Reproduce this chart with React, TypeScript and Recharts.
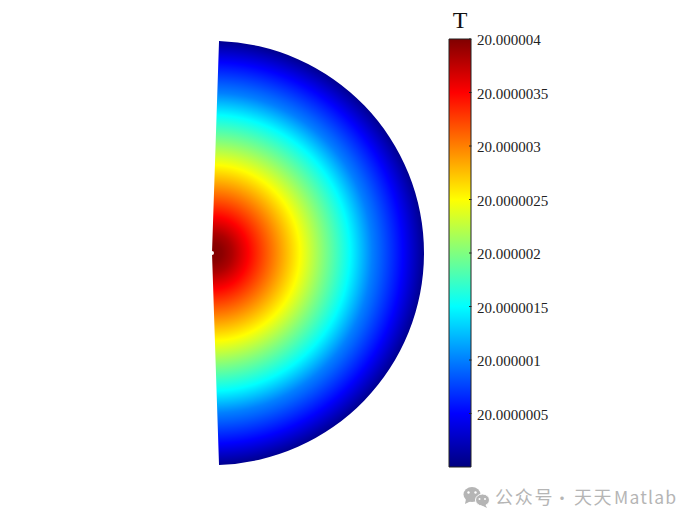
import { PieChart, Pie, Cell, BarChart, Bar, XAxis, YAxis } from "recharts"

// radial profile: distance from centre (0..1 of the radius) and T - 20, in 1e-6
const profileRadius = [0, 0.047, 0.094, 0.172, 0.295, 0.415, 0.53, 0.651, 0.755, 0.792, 0.9, 1]
const profileExcess = [4.0, 3.95, 3.82, 3.5, 3.0, 2.5, 2.0, 1.5, 1.0, 0.88, 0.5, 0.06]

const sector = [{ name: "domain", value: 1 }]
const colorbar = [{ name: "T", range: [20, 20.000004] }]
const tickValues = [20.0000005, 20.000001, 20.0000015, 20.000002, 20.0000025, 20.000003, 20.0000035, 20.000004]
const tickLabels = ["20.0000005", "20.000001", "20.0000015", "20.000002", "20.0000025", "20.000003", "20.0000035", "20.000004"]

// matlab jet, t in 0..1
function jet(t: number) {
  const ch = (x: number) => Math.round(255 * Math.max(0, Math.min(1, 1.5 - Math.abs(4 * x - 2))))
  return `rgb(${ch(t - 0.25)},${ch(t)},${ch(t + 0.25)})`
}
const jetStops = [0, 0.125, 0.375, 0.625, 0.875, 1]

const FONT = "'Liberation Serif', serif"
const CJK = "'Noto Sans CJK SC', sans-serif"
const GREY = "#b5b5b5"

function ColorbarTick({ x, y, payload }: any) {
  const i = tickValues.indexOf(payload.value)
  return (
    <g>
      <line x1={x - 10} x2={x - 7.5} y1={y} y2={y} stroke="#222" strokeWidth={1} />
      <text x={x - 2} y={y + 6} fontFamily={FONT} fontSize={15} fill="#222">
        {tickLabels[i]}
      </text>
    </g>
  )
}

function Watermark() {
  return (
    <svg width={700} height={525} style={{ position: "absolute", left: 0, top: 0 }}>
      <ellipse cx={472} cy={494.5} rx={8.5} ry={7.5} fill={GREY} />
      <path d="M466 499 L465 504 L471 501 Z" fill={GREY} />
      <ellipse cx={482.5} cy={500} rx={7} ry={6} fill={GREY} stroke="#fff" strokeWidth={1} />
      <path d="M485 504 L487 508 L481 505 Z" fill={GREY} />
      <circle cx={468.5} cy={492.5} r={1.2} fill="#fff" />
      <circle cx={475.5} cy={492.5} r={1.2} fill="#fff" />
      <circle cx={479.5} cy={499} r={1} fill="#fff" />
      <circle cx={485} cy={499} r={1} fill="#fff" />
      <text x={495} y={504} fontFamily={CJK} fontSize={18} letterSpacing={1.7} fill={GREY}>
        公众号
      </text>
      <text x={554} y={504} fontFamily={CJK} fontSize={16} fill={GREY}>
        ·
      </text>
      <text x={574} y={504} fontFamily={CJK} fontSize={18} letterSpacing={1.5} fill={GREY}>
        天天
      </text>
      <text x={614} y={504} fontFamily={CJK} fontSize={17.5} letterSpacing={1.2} fill={GREY}>
        Matlab
      </text>
    </svg>
  )
}

export default function App() {
  return (
    <div style={{ position: "absolute", left: 0, top: 0, width: 700, height: 525, background: "#fff" }}>
      <div style={{ position: "absolute", left: 0, top: 0 }}>
        <PieChart width={700} height={525} margin={{ top: 0, right: 0, bottom: 0, left: 0 }}>
          <defs>
            <radialGradient id="tField" gradientUnits="userSpaceOnUse" cx={212} cy={253} r={212}>
              {profileRadius.map((r, i) => (
                <stop key={i} offset={r} stopColor={jet(profileExcess[i] / 4)} />
              ))}
            </radialGradient>
          </defs>
          <Pie
            data={sector}
            dataKey="value"
            nameKey="name"
            cx={212}
            cy={253}
            innerRadius={2}
            outerRadius={212}
            startAngle={88.1}
            endAngle={-88.1}
            stroke="none"
            isAnimationActive={false}
          >
            {sector.map((_, i) => (
              <Cell key={i} fill="url(#tField)" />
            ))}
          </Pie>
        </PieChart>
      </div>
      <div style={{ position: "absolute", left: 0, top: 0 }}>
        <BarChart
          width={700}
          height={525}
          data={colorbar}
          barCategoryGap={0}
          margin={{ top: 39, right: 129, bottom: 58, left: 449 }}
        >
          <defs>
            <linearGradient id="jetBar" x1="0" y1="1" x2="0" y2="0">
              {jetStops.map((s) => (
                <stop key={s} offset={s} stopColor={jet(s)} />
              ))}
            </linearGradient>
          </defs>
          <XAxis dataKey="name" hide />
          <YAxis
            orientation="right"
            width={100}
            domain={[20, 20.000004]}
            ticks={tickValues}
            axisLine={false}
            tickLine={false}
            interval={0}
            tick={<ColorbarTick />}
          />
          <Bar dataKey="range" fill="url(#jetBar)" stroke="#222" strokeWidth={1} isAnimationActive={false} />
          <text x={460} y={28} textAnchor="middle" fontFamily={FONT} fontSize={24} fill="#111">
            T
          </text>
        </BarChart>
      </div>
      <Watermark />
    </div>
  )
}
